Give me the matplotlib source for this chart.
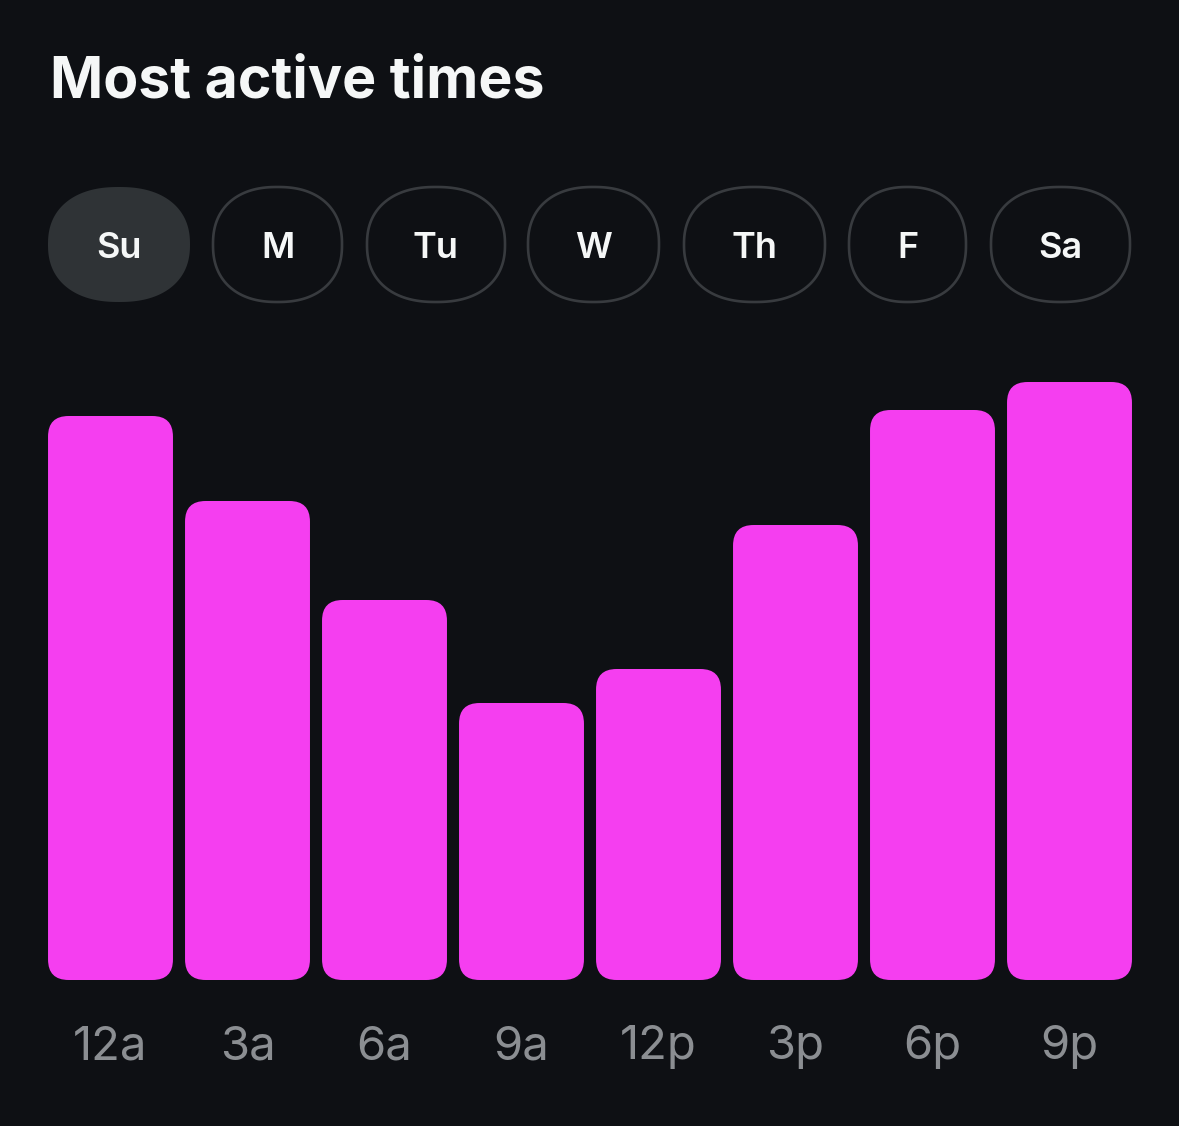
import numpy as np
import matplotlib.pyplot as plt
from matplotlib.patches import FancyBboxPatch, Polygon

# donnees
hours = ['12a', '3a', '6a', '9a', '12p', '3p', '6p', '9p']
activity = [564, 479, 380, 277, 311, 455, 570, 598]
days = ['Su', 'M', 'Tu', 'W', 'Th', 'F', 'Sa']
selected_day = 'Su'

# mise en page des boutons (pixels)
pill_left = [48, 213, 367, 528, 684, 849, 991]
pill_right = [190, 342, 505, 659, 825, 966, 1130]
pill_top, pill_h = 187, 115

W, H = 1179, 1126
bg = '#0e1014'
pink = '#f53ef0'
grey = '#8b8e92'
pill_col = '#2f3336'
pill_edge = '#383b3f'
txt = '#f5f7f7'

plt.rcParams['font.family'] = ['Inter', 'DejaVu Sans']


def superellipse(cx, cy, a, b, n=2.3, k=240):
    # forme des boutons (presque une ellipse)
    t = np.linspace(0, 2 * np.pi, k)
    c, s = np.cos(t), np.sin(t)
    x = cx + a * np.sign(c) * np.abs(c) ** (2 / n)
    y = cy + b * np.sign(s) * np.abs(s) ** (2 / n)
    return np.column_stack([x, y])


fig = plt.figure(figsize=(W / 100, H / 100), dpi=100, facecolor=bg)

# axe "ecran" en pixels pour le titre et les boutons
ax0 = fig.add_axes([0, 0, 1, 1])
ax0.set_xlim(0, W)
ax0.set_ylim(H, 0)
ax0.axis('off')
ax0.set_facecolor('none')

ax0.text(50, 98, 'Most active times', fontsize=41.2, fontweight='bold',
         color=txt, va='baseline', ha='left')

for d, x0, x1 in zip(days, pill_left, pill_right):
    sel = d == selected_day
    cx, cy = (x0 + x1) / 2, pill_top + pill_h / 2
    pts = superellipse(cx, cy, (x1 - x0) / 2, pill_h / 2)
    ax0.add_patch(Polygon(pts, closed=True,
                          fc=pill_col if sel else 'none',
                          ec=pill_edge, lw=0 if sel else 1.9))
    ax0.text(cx, 258, d, fontsize=26, fontweight='semibold',
             color=txt, ha='center', va='baseline')

# graphique en barres
ax = fig.add_axes([42 / W, 146 / H, 1096 / W, 600 / H])
ax.set_facecolor('none')
ax.set_xlim(-0.5, len(hours) - 0.5)
ax.set_ylim(0, 600)
bars = ax.bar(range(len(hours)), activity, width=0.912)
for b in bars:
    b.set_visible(False)
    ax.add_patch(FancyBboxPatch((b.get_x(), b.get_y()), b.get_width(), b.get_height(),
                                boxstyle='round,pad=0,rounding_size=0.15',
                                mutation_aspect=137, fc=pink, ec='none'))

ax.set_xticks(range(len(hours)), hours)
ax.tick_params(axis='x', length=0, pad=57, labelsize=34, labelcolor=grey)
for lbl in ax.get_xticklabels():
    lbl.set_va('baseline')
ax.set_yticks([])
for s in ax.spines.values():
    s.set_visible(False)

fig.savefig('out.png', dpi=100, facecolor=bg)
